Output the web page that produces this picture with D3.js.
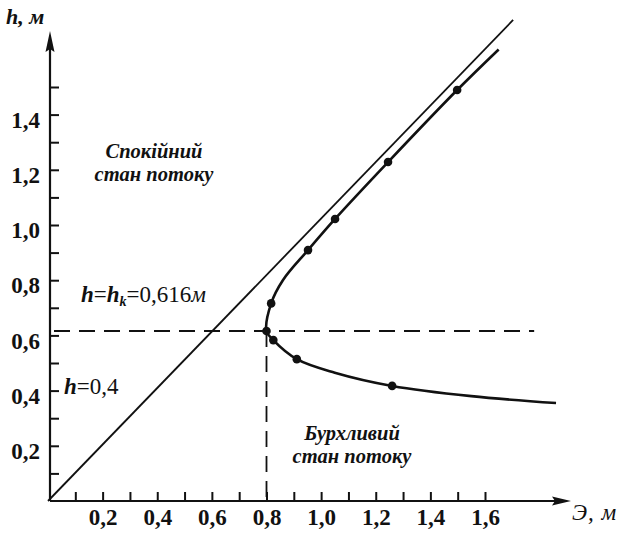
<!DOCTYPE html>
<html>
<head>
<meta charset="utf-8">
<script src="https://cdn.jsdelivr.net/npm/d3@7"></script>
<style>
  html, body { margin: 0; padding: 0; background: #fff; }
  svg { display: block; }
  text { font-family: "Liberation Serif", "DejaVu Serif", serif; fill: #111; }
</style>
</head>
<body>
<svg id="chart" width="627" height="533"></svg>
<script>
// Specific energy curve Э(h) for a channel flow, critical depth h_k
const criticalDepth = 0.616;
const criticalEnergy = 0.80;

// Marked points on the curve (Э, h)
const pointEnergy = [1.498, 1.245, 1.051, 0.952, 0.817, 0.80, 0.825, 0.911, 1.26];
const pointDepth  = [1.489, 1.228, 1.022, 0.909, 0.716, 0.616, 0.583, 0.514, 0.417];

// The full curve traced through the points, from the upper end to the lower tail
const curveEnergy = [1.65, 1.498, 1.245, 1.051, 0.952, 0.86, 0.817, 0.80, 0.825, 0.911, 1.05, 1.26, 1.55, 1.86];
const curveDepth  = [1.636, 1.489, 1.228, 1.022, 0.909, 0.80, 0.716, 0.616, 0.583, 0.514, 0.465, 0.417, 0.38, 0.355];

// Asymptote h ≈ Э, from the origin to its upper end
const diagonalEnergy = [0, 1.703];
const diagonalDepth  = [0, 1.743];

// Axis ticks: every 0.1, labels every 0.2
const xTickValues = [0.1, 0.2, 0.3, 0.4, 0.5, 0.6, 0.7, 0.8, 0.9, 1.0, 1.1, 1.2, 1.3, 1.4, 1.5, 1.6];
const yTickValues = [0.1, 0.2, 0.3, 0.4, 0.5, 0.6, 0.7, 0.8, 0.9, 1.0, 1.1, 1.2, 1.3, 1.4, 1.5];
const xTickLabels = ["0,2", "0,4", "0,6", "0,8", "1,0", "1,2", "1,4", "1,6"];
const yTickLabels = ["0,2", "0,4", "0,6", "0,8", "1,0", "1,2", "1,4"];

const svg = d3.select("#chart");

const x = d3.scaleLinear().domain([0, 1.6]).range([48, 485]);
const y = d3.scaleLinear().domain([0, 1.5]).range([501, 87]);
const x0 = 50, y0 = y(0);

// Label every second tick, using the matching label list
const fmtFrom = labels => v => {
  const i = Math.round(v * 10);
  return i % 2 === 0 ? labels[i / 2 - 1] : "";
};

// X axis ticks (pointing up) and labels
const xAxis = d3.axisBottom(x)
  .tickValues(xTickValues)
  .tickSizeInner(-9).tickSizeOuter(0)
  .tickPadding(8)
  .tickFormat(fmtFrom(xTickLabels));
const gx = svg.append("g").attr("transform", `translate(0,${y0})`).call(xAxis);
gx.select(".domain").remove();
gx.selectAll(".tick line").attr("stroke", "#111").attr("stroke-width", 2);
gx.selectAll(".tick text")
  .attr("font-size", 23).attr("font-weight", "bold").attr("fill", "#111")
  .attr("dy", "0.71em");

// Y axis ticks (pointing right) and labels
const yAxis = d3.axisLeft(y)
  .tickValues(yTickValues)
  .tickSizeInner(-9).tickSizeOuter(0)
  .tickPadding(10)
  .tickFormat(fmtFrom(yTickLabels));
const gy = svg.append("g").attr("transform", `translate(${x0},0)`).call(yAxis);
gy.select(".domain").remove();
gy.selectAll(".tick line").attr("stroke", "#111").attr("stroke-width", 2);
gy.selectAll(".tick text")
  .attr("font-size", 23).attr("font-weight", "bold").attr("fill", "#111")
  .attr("dy", "0.55em");

// Axis lines with arrowheads
svg.append("line").attr("x1", x0).attr("y1", y0).attr("x2", 560).attr("y2", y0)
  .attr("stroke", "#111").attr("stroke-width", 2.2);
svg.append("path").attr("d", `M571,${y0} L552,${y0 - 4.5} L555,${y0} L552,${y0 + 4.5} Z`).attr("fill", "#111");
svg.append("line").attr("x1", x0).attr("y1", y0).attr("x2", x0).attr("y2", 45)
  .attr("stroke", "#111").attr("stroke-width", 2.2);
svg.append("path").attr("d", `M${x0},31 L${x0 - 4.5},52 L${x0},49 L${x0 + 4.5},52 Z`).attr("fill", "#111");

// Axis titles
svg.append("text").attr("x", 6).attr("y", 24)
  .attr("font-size", 22).attr("font-weight", "bold").attr("font-style", "italic")
  .text("h, м");
svg.append("text").attr("x", 572).attr("y", 520)
  .attr("font-size", 23).attr("font-style", "italic").attr("letter-spacing", 1)
  .text("Э, м");

// Asymptote line
svg.append("line")
  .attr("x1", x(diagonalEnergy[0])).attr("y1", y(diagonalDepth[0]))
  .attr("x2", x(diagonalEnergy[1])).attr("y2", y(diagonalDepth[1]))
  .attr("stroke", "#111").attr("stroke-width", 1.8);

// Critical depth dashed lines
svg.append("line")
  .attr("x1", x0).attr("y1", y(criticalDepth))
  .attr("x2", x(1.78)).attr("y2", y(criticalDepth))
  .attr("stroke", "#111").attr("stroke-width", 1.8)
  .attr("stroke-dasharray", "16,9").attr("stroke-dashoffset", -4);
svg.append("line")
  .attr("x1", x(criticalEnergy)).attr("y1", y(criticalDepth))
  .attr("x2", x(criticalEnergy)).attr("y2", y0)
  .attr("stroke", "#111").attr("stroke-width", 1.8)
  .attr("stroke-dasharray", "16,9");

// Energy curve
const curvePts = curveEnergy.map((e, i) => [e, curveDepth[i]]);
const line = d3.line().x(d => x(d[0])).y(d => y(d[1])).curve(d3.curveCatmullRom.alpha(0.5));
svg.append("path").datum(curvePts)
  .attr("d", line)
  .attr("fill", "none").attr("stroke", "#111").attr("stroke-width", 2.6);

// Marked points
svg.selectAll("circle.pt").data(pointEnergy.map((e, i) => [e, pointDepth[i]]))
  .enter().append("circle").attr("class", "pt")
  .attr("cx", d => x(d[0])).attr("cy", d => y(d[1])).attr("r", 4.3)
  .attr("fill", "#111");

// Region labels
const lbl = (tx, ty, str) => svg.append("text")
  .attr("x", tx).attr("y", ty).attr("text-anchor", "middle")
  .attr("font-size", 20.5).attr("font-style", "italic").attr("font-weight", "bold")
  .text(str);
lbl(154, 158, "Спокійний");
lbl(154, 181, "стан потоку");
lbl(352, 440, "Бурхливий");
lbl(352, 463, "стан потоку");

// h = h_k = 0,616 м
const hk = svg.append("text").attr("x", 81).attr("y", 302).attr("font-size", 23);
hk.append("tspan").attr("font-style", "italic").attr("font-weight", "bold").text("h");
hk.append("tspan").text("=");
hk.append("tspan").attr("font-style", "italic").attr("font-weight", "bold").text("h");
hk.append("tspan").attr("font-style", "italic").attr("font-weight", "bold")
  .attr("font-size", 14).attr("dy", 4).text("k");
hk.append("tspan").attr("dy", -4).text("=0,616");
hk.append("tspan").attr("font-style", "italic").text("м");

// h = 0,4
const h4 = svg.append("text").attr("x", 64).attr("y", 394).attr("font-size", 23);
h4.append("tspan").attr("font-style", "italic").attr("font-weight", "bold").text("h");
h4.append("tspan").text("=0,4");
</script>
</body>
</html>
